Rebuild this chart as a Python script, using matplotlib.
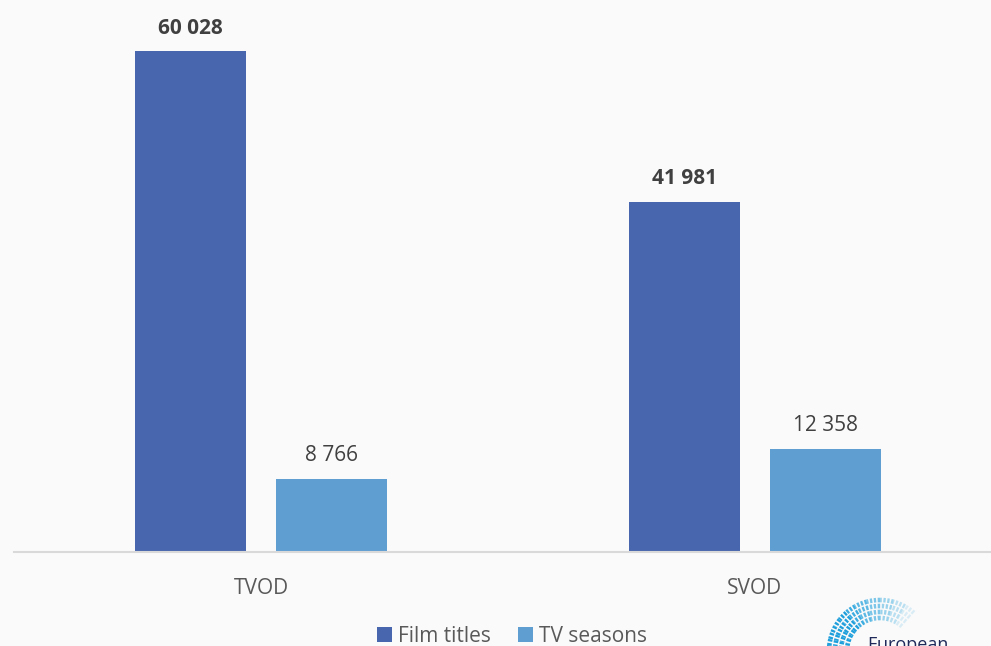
import numpy as np
import matplotlib.pyplot as plt
from matplotlib.patches import Arc

plt.rcParams['font.family'] = ['Open Sans', 'DejaVu Sans']

categorias = ['TVOD', 'SVOD']
film_titles = [60028, 41981]
tv_seasons = [8766, 12358]
series_names = ['Film titles', 'TV seasons']

C_FILM = '#4866AD'
C_TV = '#5F9ED1'
BG = '#FAFAFA'

def fmt(v):
    return f'{v:,}'.replace(',', ' ')

fig = plt.figure(figsize=(9.91, 6.46), dpi=100, facecolor=BG)
ax = fig.add_axes([14 / 991, 94 / 646, 988 / 991, 552 / 646])
ax.set_facecolor(BG)

x = np.arange(len(categorias))
w = 0.225
off = 0.1427
b1 = ax.bar(x - off, film_titles, w, color=C_FILM, label=series_names[0])
b2 = ax.bar(x + off, tv_seasons, w, color=C_TV, label=series_names[1])

ax.set_xlim(-0.5, 1.5)
ax.set_ylim(0, 60028 * 552 / 501)

for r, v in zip(b1, film_titles):
    ax.annotate(fmt(v), (r.get_x() + r.get_width() / 2, v), xytext=(0, 9),
                textcoords='offset points', ha='center', va='bottom',
                fontsize=15, fontweight='bold', color='#404040')
for r, v in zip(b2, tv_seasons):
    ax.annotate(fmt(v), (r.get_x() + r.get_width() / 2, v), xytext=(0, 9),
                textcoords='offset points', ha='center', va='bottom',
                fontsize=15, color='#404040')

for s in ['top', 'right', 'left']:
    ax.spines[s].set_visible(False)
ax.spines['bottom'].set_color('#D9D9D9')
ax.spines['bottom'].set_linewidth(1.5)
ax.set_yticks([])
ax.set_xticks(x)
ax.set_xticklabels(categorias, fontsize=15, color='#595959')
ax.tick_params(axis='x', length=0, pad=19)

fig.legend(loc='center', bbox_to_anchor=(512 / 991, 1 - 636 / 646), ncol=2,
           frameon=False, fontsize=15, labelcolor='#595959', handlelength=0.7,
           handleheight=0.7, handletextpad=0.3, columnspacing=1.3)

# logo (recortado abajo a la derecha)
cx, cy = 880, 651
for rad in [33, 39, 45, 51]:
    for t0 in range(60, 180, 10):
        alpha = min(1.0, 0.15 + (t0 - 60) / 70)
        fig.patches.append(Arc((cx / 991, 1 - cy / 646), 2 * rad / 991, 2 * rad / 646,
                               theta1=t0, theta2=t0 + 10, transform=fig.transFigure,
                               color='#1FA0DC', lw=3.3, alpha=alpha,
                               linestyle=(0, (0.5, 0.35))))
fig.text(867 / 991, 1 - 636 / 646, 'European', fontsize=13, color='#1F2A5A',
         ha='left', va='top')

fig.savefig('out.png', dpi=100, facecolor=BG)
